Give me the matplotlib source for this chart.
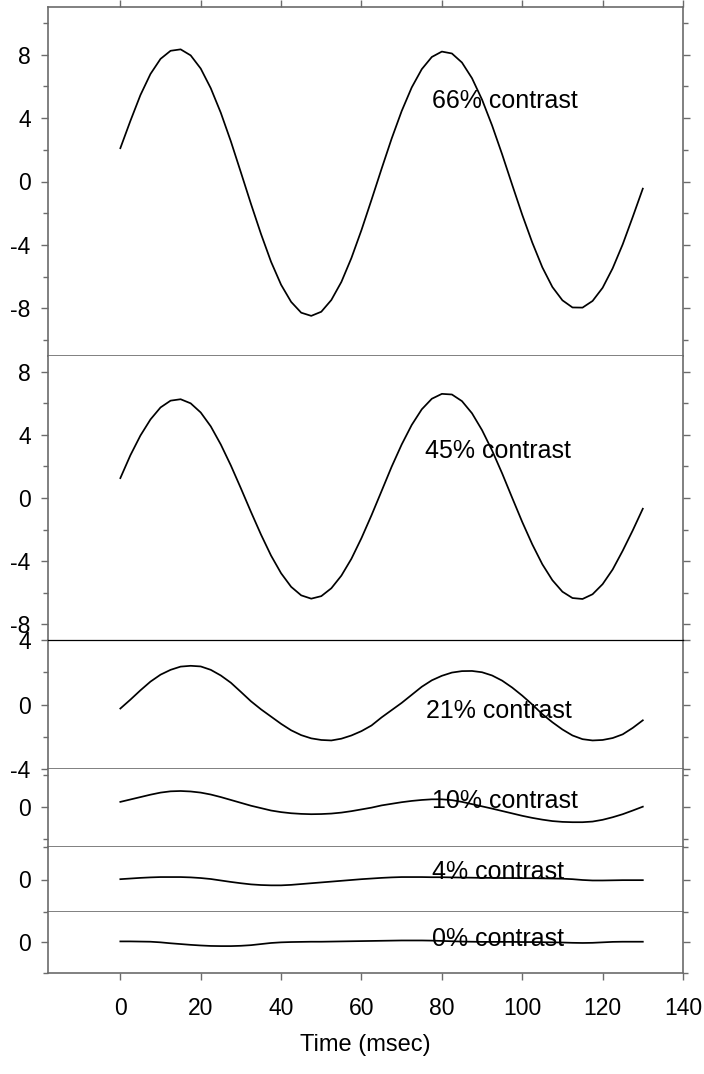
import numpy as np
import matplotlib.pyplot as plt

plt.rcParams['font.family'] = ['Liberation Sans', 'DejaVu Sans']

# sample times (msec) shared by all contrast levels
time_ms = np.arange(0, 132.5, 2.5)

resp_66 = [2.1, 3.82, 5.45, 6.78, 7.73, 8.24, 8.33, 7.95, 7.12, 5.88,
           4.33, 2.53, 0.57, -1.41, -3.31, -5.06, -6.51, -7.59, -8.27, -8.47,
           -8.21, -7.47, -6.33, -4.82, -3.06, -1.15, 0.80, 2.70, 4.44, 5.93,
           7.08, 7.85, 8.19, 8.07, 7.50, 6.51, 5.16, 3.53, 1.71, -0.21,
           -2.10, -3.85, -5.41, -6.65, -7.49, -7.94, -7.95, -7.53, -6.70, -5.47,
           -3.96, -2.23, -0.45]

resp_45 = [1.26, 2.71, 3.96, 4.98, 5.74, 6.17, 6.26, 6.00, 5.42, 4.54,
           3.39, 2.06, 0.61, -0.88, -2.32, -3.65, -4.77, -5.63, -6.17, -6.38,
           -6.22, -5.72, -4.92, -3.85, -2.54, -1.09, 0.44, 1.98, 3.39, 4.63,
           5.62, 6.29, 6.60, 6.56, 6.14, 5.37, 4.30, 3.01, 1.56, 0.01,
           -1.52, -2.94, -4.20, -5.21, -5.94, -6.34, -6.40, -6.10, -5.46, -4.53,
           -3.34, -2.05, -0.68]

resp_21 = [-0.25, 0.30, 0.88, 1.42, 1.85, 2.15, 2.35, 2.40, 2.36, 2.15,
           1.80, 1.35, 0.78, 0.20, -0.30, -0.75, -1.20, -1.60, -1.90, -2.10,
           -2.20, -2.23, -2.12, -1.92, -1.65, -1.30, -0.80, -0.35, 0.10, 0.60,
           1.10, 1.50, 1.78, 1.98, 2.07, 2.08, 2.00, 1.80, 1.48, 1.05,
           0.55, 0.00, -0.60, -1.10, -1.55, -1.92, -2.15, -2.23, -2.20, -2.08,
           -1.85, -1.45, -0.98]

resp_10 = [0.32, 0.47, 0.62, 0.77, 0.90, 0.98, 1.00, 0.97, 0.90, 0.78,
           0.62, 0.44, 0.26, 0.08, -0.07, -0.22, -0.32, -0.39, -0.43, -0.45,
           -0.44, -0.41, -0.35, -0.26, -0.15, -0.04, 0.10, 0.20, 0.30, 0.38,
           0.44, 0.48, 0.48, 0.43, 0.32, 0.18, 0.04, -0.10, -0.25, -0.40,
           -0.55, -0.68, -0.79, -0.88, -0.93, -0.95, -0.95, -0.91, -0.80, -0.64,
           -0.45, -0.22, 0.02]

resp_4 = [0.02, 0.06, 0.10, 0.13, 0.15, 0.15, 0.15, 0.13, 0.09, 0.03,
          -0.06, -0.15, -0.23, -0.30, -0.34, -0.36, -0.36, -0.33, -0.28, -0.23,
          -0.18, -0.13, -0.08, -0.03, 0.02, 0.06, 0.10, 0.13, 0.15, 0.15,
          0.15, 0.14, 0.14, 0.13, 0.12, 0.11, 0.10, 0.10, 0.09, 0.09,
          0.08, 0.08, 0.07, 0.06, 0.05, 0.02, -0.03, -0.06, -0.06, -0.05,
          -0.04, -0.04, -0.04]

resp_0 = [0.02, 0.02, 0.01, 0.00, -0.04, -0.10, -0.15, -0.20, -0.24, -0.27,
          -0.28, -0.28, -0.26, -0.22, -0.15, -0.08, -0.04, -0.02, -0.01, 0.00,
          0.00, 0.01, 0.02, 0.03, 0.04, 0.05, 0.06, 0.07, 0.08, 0.08,
          0.08, 0.07, 0.05, 0.03, 0.01, 0.00, -0.01, -0.01, -0.01, -0.01,
          -0.02, -0.02, -0.03, -0.04, -0.05, -0.07, -0.08, -0.07, -0.04, -0.01,
          0.00, 0.00, 0.00]

labels = ['66% contrast', '45% contrast', '21% contrast',
          '10% contrast', '4% contrast', '0% contrast']
responses = [resp_66, resp_45, resp_21, resp_10, resp_4, resp_0]

# per-panel y range, labelled ticks, minor ticks, label anchor (x, y)
ylims = [(-11, 11), (-9, 9), (-4, 4), (-2.5, 2.375), (-2, 2), (-2, 1.9)]
major_ticks = [[-8, -4, 0, 4, 8], [-8, -4, 0, 4, 8], [-4, 0, 4], [0], [0], [0]]
minor_ticks = [[-10, -6, -2, 2, 6, 10], [-6, -2, 2, 6], [-2, 2], [-2, 2], [-2, 2], [-2]]
label_pos = [(77.6, 5.1), (75.8, 3.0), (76.1, -0.4), (77.6, 0.35), (77.6, 0.45), (77.6, 0.2)]
x_ticks = [0, 20, 40, 60, 80, 100, 120, 140]

SPINE = '#6b6b6b'

fig = plt.figure(figsize=(7.04, 10.74), dpi=100)
gs = fig.add_gridspec(6, 1, height_ratios=[349, 284, 129, 78, 65, 61], hspace=0,
                      left=48 / 704, right=683 / 704,
                      top=1 - 7 / 1074, bottom=1 - 973 / 1074)

axes = []
for i in range(6):
    ax = fig.add_subplot(gs[i])
    axes.append(ax)
    ax.plot(time_ms, responses[i], color='black', lw=1.25,
            solid_joinstyle='round')
    ax.set_xlim(-18, 140)
    ax.set_ylim(*ylims[i])
    ax.set_yticks(major_ticks[i])
    ax.set_yticklabels([str(v) for v in major_ticks[i]])
    ax.set_yticks(minor_ticks[i], minor=True)
    ax.set_xticks(x_ticks)
    ax.text(label_pos[i][0], label_pos[i][1], labels[i], fontsize=18,
            ha='left', va='center')

    for side in ['left', 'right', 'top', 'bottom']:
        ax.spines[side].set_color(SPINE)
        ax.spines[side].set_linewidth(1.2)
    if i > 0:
        ax.spines['top'].set_visible(False)

    ax.tick_params(axis='y', which='both', direction='out', left=True, right=True,
                   color=SPINE, width=1.0, labelsize=16.5, pad=7.5)
    ax.tick_params(axis='y', which='major', length=5)
    ax.tick_params(axis='y', which='minor', length=3.5)

    if i == 0:
        ax.tick_params(axis='x', direction='out', top=True, bottom=False,
                       labelbottom=False, labeltop=False, length=5,
                       color=SPINE, width=1.0)
    elif i == 5:
        ax.tick_params(axis='x', direction='out', top=False, bottom=True,
                       labelbottom=True, length=5, color=SPINE, width=1.0,
                       labelsize=16.5, pad=12)
        ax.set_xlabel('Time (msec)', fontsize=17, labelpad=10)
    else:
        ax.tick_params(axis='x', which='both', bottom=False, top=False,
                       labelbottom=False)

# the 45% / 21% boundary is drawn as a plain black rule
axes[1].spines['bottom'].set_color('black')
axes[1].spines['bottom'].set_linewidth(0.9)
axes[1].set_zorder(3)

fig.savefig('out.png', dpi=100)
